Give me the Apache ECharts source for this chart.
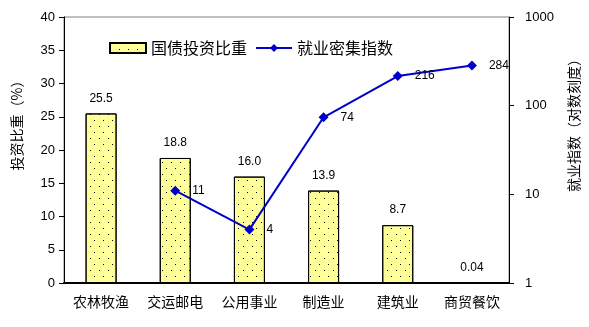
<!DOCTYPE html>
<html><head><meta charset="utf-8">
<script src="https://cdn.jsdelivr.net/npm/echarts@6/dist/echarts.min.js"></script>
<style>html,body{margin:0;padding:0;background:#fff}#c{width:589px;height:327px}</style>
</head><body><div id="c"></div>
<script>
var categories = ['农林牧渔','交运邮电','公用事业','制造业','建筑业','商贸餐饮'];
var investShare = [25.5, 18.8, 16.0, 13.9, 8.7, 0.04];
var investLabels = ['25.5','18.8','16.0','13.9','8.7','0.04'];
var employIndex = [null, 11, 4, 74, 216, 284];
var leftTicks = [0,5,10,15,20,25,30,35,40];
var rightTicks = [1,10,100,1000];

var fontNum = 'Liberation Sans, Arial, sans-serif';
var fontCJK = '"Noto Sans CJK SC", sans-serif';
var chart = echarts.init(document.getElementById('c'));
chart.setOption({
  animation: false,
  backgroundColor: '#fff',
  grid: {left: 64, right: 73, top: 17, bottom: 44, show: true, borderColor: '#808080', borderWidth: 1},
  legend: {
    top: 35, left: 104,
    itemWidth: 36, itemHeight: 10, itemGap: 8,
    textStyle: {fontFamily: fontCJK, fontSize: 16, color: '#000'},
    data: [
      {name: '国债投资比重', icon: 'rect'},
      {name: '就业密集指数'}
    ]
  },
  xAxis: {
    type: 'category', data: categories,
    axisLine: {lineStyle: {color: '#000', width: 2}},
    axisTick: {inside: true, length: 3, lineStyle: {color: '#000'}},
    axisLabel: {fontFamily: fontCJK, fontSize: 14, color: '#000', margin: 12}
  },
  yAxis: [
    {
      type: 'value', min: leftTicks[0], max: leftTicks[leftTicks.length-1], interval: 5,
      name: '投资比重（%）', nameLocation: 'middle', nameRotate: 90, nameGap: 40,
      nameTextStyle: {fontFamily: fontCJK, fontSize: 14, color: '#000', padding: [0,0,0,56]},
      axisLine: {show: true, lineStyle: {color: '#000'}},
      axisTick: {show: true, length: 5, lineStyle: {color: '#000'}},
      axisLabel: {fontFamily: fontNum, fontSize: 13, color: '#000', margin: 9},
      splitLine: {show: false}
    },
    {
      type: 'log', logBase: 10, min: rightTicks[0], max: rightTicks[rightTicks.length-1],
      name: '就业指数（对数刻度）', nameLocation: 'middle', nameRotate: 90, nameGap: 58,
      nameTextStyle: {fontFamily: fontCJK, fontSize: 14, color: '#000', padding: [0,0,0,56]},
      axisLine: {show: true, lineStyle: {color: '#000'}},
      axisTick: {show: true, length: 5, lineStyle: {color: '#000'}},
      axisLabel: {fontFamily: fontNum, fontSize: 13, color: '#000', margin: 16,
        formatter: function (v) { return String(Math.round(v)); }},
      splitLine: {show: false}, minorTick: {show: false}
    }
  ],
  series: [
    {
      name: '国债投资比重', type: 'bar', yAxisIndex: 0, data: investShare, barWidth: 31,
      itemStyle: {
        color: '#FFFF99', borderColor: '#000', borderWidth: 1,
        decal: {symbol: 'rect', symbolSize: 1, color: '#000', dashArrayX: [[1, 8], [0, 4, 1, 4]], dashArrayY: [1, 5], rotation: 0}
      },
      label: {show: true, position: 'top', distance: 9, fontFamily: fontNum, fontSize: 12, color: '#000',
        formatter: function (p) { return investLabels[p.dataIndex]; }}
    },
    {
      name: '就业密集指数', type: 'line', yAxisIndex: 1, data: employIndex,
      symbol: 'diamond', symbolSize: 10, connectNulls: false,
      lineStyle: {color: '#0000CC', width: 2}, itemStyle: {color: '#0000CC'},
      label: {show: true, position: 'right', distance: 12, fontFamily: fontNum, fontSize: 12, color: '#000'}
    }
  ]
});
</script></body></html>
